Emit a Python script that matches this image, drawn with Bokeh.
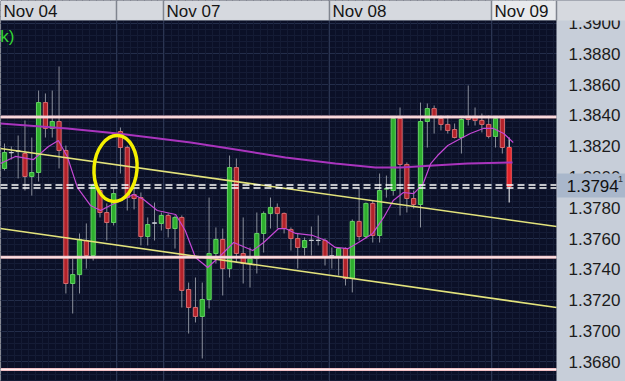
from bokeh.plotting import figure
from bokeh.models import Range1d, FixedTicker, Grid, ColumnDataSource
from bokeh.core.properties import value
from bokeh.embed import file_html
from bokeh.resources import INLINE

# ---------------- data (hourly candles) ----------------
opens = [1.38056, 1.38158, 1.38168, 1.38153, 1.38004, 1.38030, 1.38484, 1.38316, 1.38361, 1.38173,
         1.37309, 1.37367, 1.37588, 1.37491, 1.37913, 1.37770, 1.37705, 1.38296, 1.38192, 1.37887,
         1.37867, 1.37614, 1.37700, 1.37699, 1.37751, 1.37666, 1.37738, 1.37270, 1.37153, 1.37095,
         1.37205, 1.37504, 1.37595, 1.37406, 1.38062, 1.37504, 1.37439, 1.37471, 1.37634, 1.37764,
         1.37803, 1.37764, 1.37660, 1.37601, 1.37543, 1.37588, 1.37588, 1.37588, 1.37486, 1.37478,
         1.37536, 1.37341, 1.37712, 1.37614, 1.37829, 1.37621, 1.37922, 1.37913, 1.38381, 1.38082,
         1.37861, 1.37822, 1.38361, 1.38445, 1.38381, 1.38342, 1.38309, 1.38257, 1.38394, 1.38394,
         1.38368, 1.38342, 1.38264, 1.38381, 1.38192]
highs = [1.38218, 1.38199, 1.38270, 1.38368, 1.38257, 1.38562, 1.38543, 1.38562, 1.38718, 1.38205,
         1.37471, 1.37634, 1.37699, 1.37958, 1.37932, 1.37829, 1.37926, 1.38322, 1.38205, 1.37926,
         1.37900, 1.37738, 1.37835, 1.37770, 1.37764, 1.37751, 1.37751, 1.37315, 1.37348, 1.37315,
         1.37867, 1.37673, 1.37666, 1.38140, 1.38121, 1.37738, 1.37543, 1.37770, 1.37777, 1.37867,
         1.37829, 1.37770, 1.37673, 1.37634, 1.37608, 1.37679, 1.37751, 1.37601, 1.37543, 1.37543,
         1.37543, 1.37725, 1.37932, 1.37835, 1.37848, 1.38023, 1.38010, 1.38387, 1.38452, 1.38095,
         1.37913, 1.38484, 1.38478, 1.38465, 1.38400, 1.38400, 1.38348, 1.38381, 1.38595, 1.38452,
         1.38413, 1.38400, 1.38387, 1.38387, 1.38257]
lows = [1.38043, 1.38114, 1.37991, 1.37913, 1.37880, 1.37971, 1.38257, 1.38257, 1.38056, 1.37244,
        1.37114, 1.37244, 1.37406, 1.37458, 1.37738, 1.37588, 1.37686, 1.38023, 1.37783, 1.37790,
        1.37556, 1.37556, 1.37588, 1.37653, 1.37608, 1.37536, 1.37153, 1.36984, 1.37056, 1.36822,
        1.37147, 1.37439, 1.37231, 1.37348, 1.37445, 1.37309, 1.37283, 1.37374, 1.37510, 1.37666,
        1.37666, 1.37634, 1.37523, 1.37406, 1.37491, 1.37491, 1.37556, 1.37426, 1.37406, 1.37361,
        1.37296, 1.37251, 1.37588, 1.37601, 1.37575, 1.37575, 1.37867, 1.37880, 1.37751, 1.37770,
        1.37796, 1.37673, 1.38192, 1.38283, 1.38303, 1.38283, 1.38251, 1.38153, 1.38335, 1.38335,
        1.38290, 1.38251, 1.38192, 1.38153, 1.37835]
closes = [1.38160, 1.38160, 1.38170, 1.38004, 1.38030, 1.38484, 1.38316, 1.38361, 1.38173, 1.37309,
          1.37367, 1.37595, 1.37491, 1.37945, 1.37770, 1.37705, 1.37893, 1.38192, 1.37867, 1.37861,
          1.37614, 1.37692, 1.37703, 1.37751, 1.37666, 1.37738, 1.37264, 1.37153, 1.37095, 1.37205,
          1.37504, 1.37595, 1.37406, 1.38062, 1.37504, 1.37439, 1.37471, 1.37634, 1.37764, 1.37803,
          1.37764, 1.37666, 1.37601, 1.37543, 1.37588, 1.37590, 1.37590, 1.37484, 1.37489, 1.37536,
          1.37341, 1.37712, 1.37614, 1.37829, 1.37621, 1.37913, 1.37925, 1.38381, 1.38082, 1.37861,
          1.37822, 1.38361, 1.38445, 1.38387, 1.38342, 1.38303, 1.38257, 1.38374, 1.38374, 1.38368,
          1.38342, 1.38264, 1.38381, 1.38192, 1.37939]

# long moving average (bar index, price)
ma_long_x = [-0.59, 9.2, 16.6, 21.4, 27.3, 33.9, 41.2, 48.5, 54.4, 58.1, 62.9, 67.9, 74.5]
ma_long_y = [1.38348, 1.38316, 1.38283, 1.38257, 1.38225, 1.38179, 1.38127, 1.38088, 1.38062,
             1.38062, 1.38075, 1.38088, 1.38095]

# short moving average (bar index, price)
ma_short_x = [-0.59, 1.6, 4.25, 6.45, 7.9, 9.2, 10.7, 12.6, 14.1, 15.5, 17.4, 18.9, 20.4, 22.4, 25.1,
              26.5, 28.0, 29.8, 31.4, 33.6, 36.4, 38.0, 40.2, 41.2, 42.7, 45.2, 47.1, 48.5, 50.4, 51.9,
              54.0, 55.6, 57.0, 58.5, 60.0, 61.4, 62.5, 63.5, 65.0, 66.9, 68.3, 70.2, 71.7, 73.2, 74.6]
ma_short_y = [1.38088, 1.38134, 1.38114, 1.38199, 1.38238, 1.38134, 1.37932, 1.37816, 1.37783, 1.37816,
              1.37855, 1.37887, 1.37855, 1.37783, 1.37757, 1.37653, 1.37478, 1.37413, 1.37478, 1.37575,
              1.37523, 1.37575, 1.37666, 1.37666, 1.37634, 1.37621, 1.37588, 1.37543, 1.37536, 1.37575,
              1.37634, 1.37738, 1.37848, 1.37900, 1.37893, 1.37958, 1.38088, 1.38140, 1.38205, 1.38251,
              1.38283, 1.38316, 1.38316, 1.38283, 1.38225]

# trend channel lines (bar index, price)
trend_x = [-0.587, 80.94]
trend_upper_y = [1.38186, 1.37679]
trend_lower_y = [1.37666, 1.37153]

# horizontal support/resistance levels, bid/ask lines, last price
levels = [1.38390, 1.37480, 1.36751]
bid_ask = [1.37949, 1.37929]
last_price = 1.3794
last_price_label = "1.3794"

# price axis ticks
tick_vals = [1.3680, 1.3700, 1.3720, 1.3740, 1.3760, 1.3780, 1.3800, 1.3820, 1.3840, 1.3860, 1.3880, 1.3900]
tick_labels = ["1.3680", "1.3700", "1.3720", "1.3740", "1.3760", "1.3780", "1.3800", "1.3820",
               "1.3840", "1.3860", "1.3880", "1.3900"]

# day boundaries (bar index) and date labels
day_bounds = [16.42, 23.31, 47.65, 71.41]
date_labels = ["Nov 04", "Nov 07", "Nov 08", "Nov 09"]
date_label_x = [-0.15, 23.75, 48.1, 71.85]

# ---------------- figure ----------------
X0, X_AX, X1 = -0.587, 80.94, 91.06      # chart area | price scale strip
Y0, Y1 = 1.366726, 1.391468
BAR_BOTTOM = 1.39017

p = figure(width=625, height=381, output_backend="svg", toolbar_location=None,
           x_range=Range1d(X0, X1), y_range=Range1d(Y0, Y1),
           x_axis_location=None, y_axis_location=None,
           min_border_left=0, min_border_top=0, min_border_bottom=0, min_border_right=0,
           background_fill_color="#0b1027", border_fill_color="#c7ced9",
           outline_line_color=None)
p.grid.visible = False

minor_y = [1.3664 + 0.0004 * k for k in range(70)]
p.add_layout(Grid(dimension=1, ticker=FixedTicker(ticks=tick_vals, minor_ticks=minor_y),
                  grid_line_color="#232d4a", grid_line_width=1,
                  minor_grid_line_color="#151c36", minor_grid_line_width=1))
p.add_layout(Grid(dimension=0, ticker=FixedTicker(ticks=day_bounds,
                                                  minor_ticks=[k + 0.5 for k in range(-1, 81)]),
                  grid_line_color="#2b3552", grid_line_width=1,
                  minor_grid_line_color="#141b34", minor_grid_line_width=1))

# candles
n = len(opens)
fills, lines, wicks = [], [], []
for o, c in zip(opens, closes):
    if c - o > 0.00003:
        fills.append("#2eae2e"); lines.append("#62d262")
    elif o - c > 0.00003:
        fills.append("#b3222a"); lines.append("#d66a6e")
    else:
        fills.append("#9a9ea8"); lines.append("#c8ccd4")
    wicks.append("#8a8f9b")
fills[-1] = "#e2232a"; lines[-1] = "#ff5a5a"; wicks[-1] = "#ffffff"

src = ColumnDataSource(dict(
    x=list(range(n)), h=highs, l=lows,
    top=[max(o, c) for o, c in zip(opens, closes)],
    bottom=[min(o, c) for o, c in zip(opens, closes)],
    fill=fills, line=lines, wick=wicks))
p.segment(x0="x", y0="h", x1="x", y1="l", line_color="wick", line_width=1, source=src)
p.vbar(x="x", width=0.62, top="top", bottom="bottom", fill_color="fill",
       line_color="line", line_width=1, source=src)

# moving averages
p.line(ma_long_x, ma_long_y, line_color="#a934bd", line_width=2)
p.line(ma_short_x, ma_short_y, line_color="#c548d6", line_width=1.2)

# trend channel
p.line(trend_x, trend_upper_y, line_color="#e3e37c", line_width=1.6)
p.line(trend_x, trend_lower_y, line_color="#e3e37c", line_width=1.6)

# levels
k = len(levels)
p.segment(x0=[X0] * k, y0=levels, x1=[X_AX] * k, y1=levels, line_color="#efbcc2", line_width=3)
p.segment(x0=[X0] * k, y0=levels, x1=[X_AX] * k, y1=levels, line_color="#fff2f2", line_width=1)
k = len(bid_ask)
p.segment(x0=[X0] * k, y0=bid_ask, x1=[X_AX] * k, y1=bid_ask, line_color="#ffffff",
          line_width=1.5, line_dash="7 4")

# highlight ellipse
p.ellipse(x=16.28, y=1.38056, width=6.3, height=0.00429, angle=-0.08,
          fill_alpha=0, line_color="#f4f000", line_width=3.5)

# price scale strip (right)
p.quad(left=X_AX, right=X1, bottom=Y0, top=Y1, fill_color="#c7ced9", line_color=None)
p.text(x=[82.7] * len(tick_vals), y=tick_vals, text=tick_labels,
       text_font=value("Liberation Sans"), text_font_size="17px", text_color="#1c1c1c",
       text_baseline="middle", text_align="left")
# last price box
p.quad(left=X_AX + 0.1, right=X1, bottom=1.37867, top=1.38023, fill_color="#a9b7cb",
       line_color=None)
p.text(x=[82.45], y=[last_price], text=[last_price_label], text_font=value("Liberation Sans"),
       text_font_size="17px", text_color="#111111", text_baseline="middle")
p.text(x=[89.95], y=[1.37985], text=["1"], text_font=value("Liberation Sans"),
       text_font_size="9px", text_color="#333333", text_baseline="middle")

# top date bar
p.quad(left=X0, right=X1, bottom=BAR_BOTTOM, top=Y1, fill_color="#d6d9df", line_color=None)
p.quad(left=day_bounds[-1], right=X_AX, bottom=BAR_BOTTOM, top=Y1, fill_color="#e8eaed",
       line_color=None)
seps = day_bounds + [X_AX]
p.segment(x0=seps, y0=[BAR_BOTTOM] * len(seps), x1=seps, y1=[Y1] * len(seps),
          line_color="#80858f", line_width=1.5)
p.segment(x0=[X0], y0=[BAR_BOTTOM], x1=[X_AX], y1=[BAR_BOTTOM], line_color="#5c6272", line_width=1)
p.text(x=date_label_x, y=[1.39075] * 4, text=date_labels, text_font=value("Liberation Sans"),
       text_font_size="17px", text_color="#151515", text_baseline="middle")

# cut-off legend text
p.text(x=[-0.62], y=[1.38915], text=["k)"], text_font=value("Liberation Sans"),
       text_font_size="17px", text_color="#34d634", text_baseline="alphabetic")

open("out.html", "w").write(file_html(p, INLINE))
